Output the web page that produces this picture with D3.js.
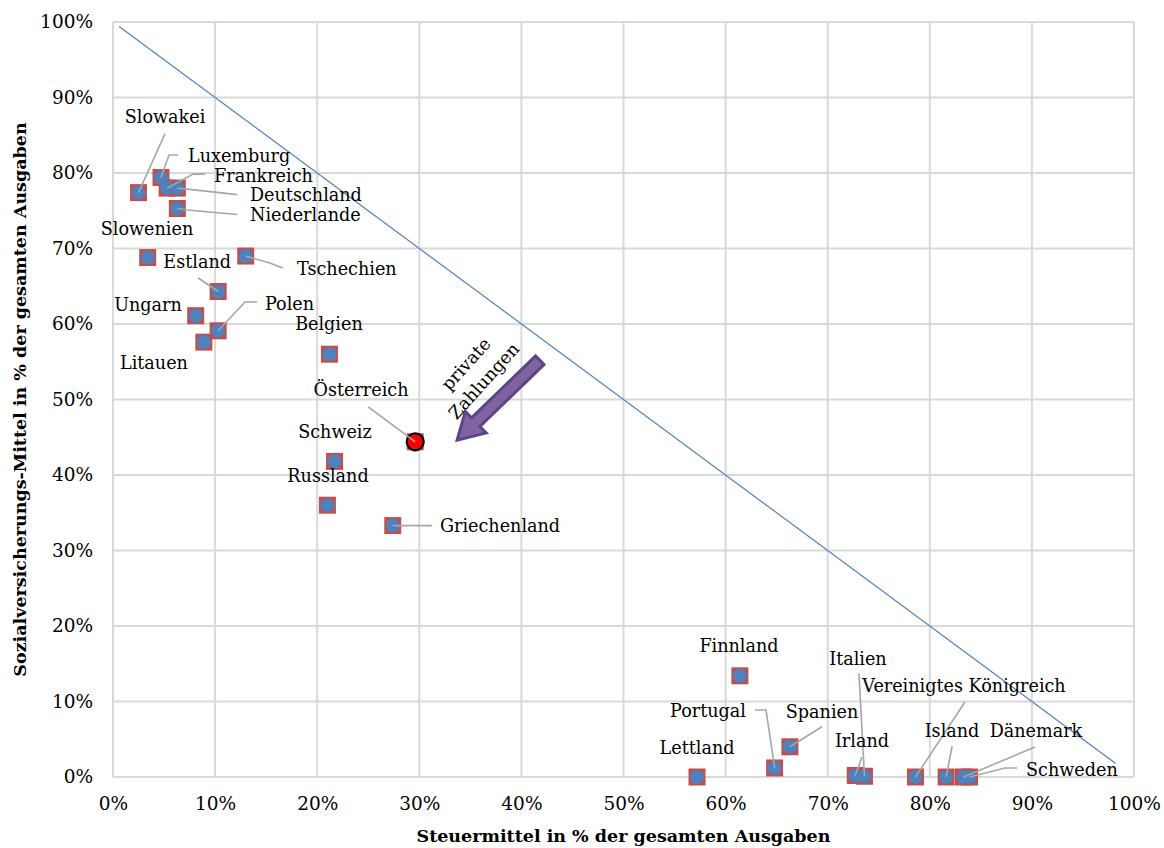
<!DOCTYPE html>
<html>
<head>
<meta charset="utf-8">
<script src="https://cdn.jsdelivr.net/npm/d3@7"></script>
<style>
  html, body { margin: 0; padding: 0; background: #fff; }
  svg { display: block; }
  text { font-family: "DejaVu Serif", "Liberation Serif", serif; fill: #000; }
</style>
</head>
<body>
<svg id="chart" width="1164" height="848"></svg>
<script>
// Financing of health expenditure: tax funds vs. social insurance funds (share of total)
const countries = ["Slowakei","Luxemburg","Frankreich","Deutschland","Niederlande","Slowenien","Estland",
  "Tschechien","Ungarn","Polen","Litauen","Belgien","Österreich","Schweiz","Russland","Griechenland",
  "Finnland","Lettland","Portugal","Spanien","Irland","Italien","Vereinigtes Königreich","Island",
  "Dänemark","Schweden"];
const taxShare = [2.5, 4.7, 5.3, 6.3, 6.3, 3.4, 10.3, 13.0, 8.1, 10.3, 8.9, 21.2, 29.6, 21.7, 21.0, 27.4,
  61.4, 57.2, 64.8, 66.3, 72.7, 73.6, 78.6, 81.6, 83.3, 83.9];
const insuranceShare = [77.4, 79.4, 78.0, 78.0, 75.3, 68.8, 64.3, 69.0, 61.1, 59.1, 57.6, 56.0, 44.4, 41.8, 36.0, 33.3,
  13.4, 0.0, 1.2, 4.0, 0.2, 0.1, 0.0, 0.0, 0.0, 0.0];
const highlighted = "Österreich";

const xTicks = [0,10,20,30,40,50,60,70,80,90,100];
const yTicks = [0,10,20,30,40,50,60,70,80,90,100];
const xTitle = "Steuermittel in % der gesamten Ausgaben";
const yTitle = "Sozialversicherungs-Mittel in % der gesamten Ausgaben";

// reference line x + y = 100 (no private payments)
const refLineX = [0.6, 98.2];
const refLineY = [99.4, 1.8];
// arrow annotation (tail -> head) in data units
const arrowX = [41.8, 33.7];
const arrowY = [55.2, 44.6];
const arrowText = ["private", "Zahlungen"];

// label placement: pixel offset from the marker, anchor, leader line path (pixel offsets)
const labelLayout = {
  "Slowakei": {dx: 26.5, dy: -75.6, a: "middle", leader: [[26.5,-59],[0,0]]},
  "Luxemburg": {dx: 27, dy: -21.5, a: "start", leader: [[17,-22.5],[8,-22.5],[0,0]]},
  "Frankreich": {dx: 47, dy: -12, a: "start", leader: [[38,-14],[26,-14],[0,0]]},
  "Deutschland": {dx: 72.7, dy: 7, a: "start", leader: [[60,6.5],[10,1],[0,0]]},
  "Niederlande": {dx: 72.7, dy: 6.5, a: "start", leader: [[60,6],[10,1.5],[0,0]]},
  "Slowenien": {dx: -0.7, dy: -28.6, a: "middle"},
  "Estland": {dx: -21, dy: -29.5, a: "middle", leader: [[-20,-13.5],[0,0]]},
  "Tschechien": {dx: 51.3, dy: 13, a: "start", leader: [[37,12],[24,7],[0,0]]},
  "Ungarn": {dx: -47.7, dy: -10.7, a: "middle"},
  "Polen": {dx: 46.8, dy: -26.8, a: "start", leader: [[38.8,-28.8],[26.8,-28.8],[0,0]]},
  "Litauen": {dx: -49.9, dy: 20.9, a: "middle"},
  "Belgien": {dx: -0.5, dy: -30.2, a: "middle"},
  "Österreich": {dx: -54.2, dy: -51.8, a: "middle", leader: [[-47,-35],[0,0]]},
  "Schweiz": {dx: 0.4, dy: -29.4, a: "middle"},
  "Russland": {dx: 0.6, dy: -29.2, a: "middle"},
  "Griechenland": {dx: 47.2, dy: 0.4, a: "start", leader: [[39,0],[0,0]]},
  "Finnland": {dx: -0.9, dy: -29.8, a: "middle"},
  "Lettland": {dx: 0, dy: -29, a: "middle"},
  "Portugal": {dx: -66.6, dy: -57, a: "middle", leader: [[-19.6,-58],[-8.6,-58],[0,0]]},
  "Spanien": {dx: 32.1, dy: -34.8, a: "middle", leader: [[32,-20],[0,0]]},
  "Irland": {dx: 6.7, dy: -34.5, a: "middle", leader: [[6.7,-18.5],[0,0]]},
  "Italien": {dx: -6.5, dy: -117.2, a: "middle", leader: [[-5.5,-103],[0,0]]},
  "Vereinigtes Königreich": {dx: 48.5, dy: -91, a: "middle", leader: [[49.5,-75],[0,0]]},
  "Island": {dx: 5.9, dy: -46, a: "middle", leader: [[6,-31],[0,0]]},
  "Dänemark": {dx: 72.5, dy: -46, a: "middle", leader: [[71.5,-30],[0,0]]},
  "Schweden": {dx: 56.4, dy: -7, a: "start", leader: [[47.4,-9],[35.4,-9],[0,0]]}
};

const data = countries.map((c, i) => ({name: c, x: taxShare[i], y: insuranceShare[i]}));

const svg = d3.select("#chart");
const margin = {left: 113, right: 30, top: 22, bottom: 71};
const W = 1164, H = 848;
const x = d3.scaleLinear().domain([0, 100]).range([margin.left, W - margin.right]);
const y = d3.scaleLinear().domain([0, 100]).range([H - margin.bottom, margin.top]);
const FS = 17.6;

// gridlines
const grid = svg.append("g");
grid.selectAll("line.v").data(xTicks).join("line")
  .attr("x1", d => x(d)).attr("x2", d => x(d))
  .attr("y1", y(0)).attr("y2", y(100))
  .attr("stroke", "#d9d9d9").attr("stroke-width", 2);
grid.selectAll("line.h").data(yTicks).join("line")
  .attr("x1", x(0)).attr("x2", x(100))
  .attr("y1", d => y(d)).attr("y2", d => y(d))
  .attr("stroke", "#d9d9d9").attr("stroke-width", 2);

// axes (tick labels only)
const fmt = d => d + "%";
const xAxis = svg.append("g").attr("transform", `translate(0,${y(0)})`)
  .call(d3.axisBottom(x).tickValues(xTicks).tickFormat(fmt).tickSize(0).tickPadding(20));
const yAxis = svg.append("g").attr("transform", `translate(${x(0)},0)`)
  .call(d3.axisLeft(y).tickValues(yTicks).tickFormat(fmt).tickSize(0).tickPadding(20));
[xAxis, yAxis].forEach(g => {
  g.select(".domain").remove();
  g.selectAll("text").attr("font-family", "DejaVu Serif").attr("font-size", 18.5).attr("fill", "#000");
});

// axis titles
svg.append("text").attr("x", x(50)).attr("y", 842)
  .attr("text-anchor", "middle").attr("font-weight", "bold").attr("font-size", 17.5)
  .text(xTitle);
svg.append("text").attr("transform", `translate(26,${y(50)}) rotate(-90)`)
  .attr("text-anchor", "middle").attr("font-weight", "bold").attr("font-size", 17.5)
  .text(yTitle);

// reference diagonal
svg.append("line")
  .attr("x1", x(refLineX[0])).attr("y1", y(refLineY[0]))
  .attr("x2", x(refLineX[1])).attr("y2", y(refLineY[1]))
  .attr("stroke", "#4f81bd").attr("stroke-width", 1.2);

// markers
const marks = svg.append("g");
marks.selectAll("rect").data(data).join("rect")
  .attr("x", d => x(d.x) - 8.5).attr("y", d => y(d.y) - 8.5)
  .attr("width", 17).attr("height", 17)
  .attr("fill", "#c0504d");
marks.selectAll("circle").data(data).join("circle")
  .attr("cx", d => x(d.x)).attr("cy", d => y(d.y))
  .attr("r", d => d.name === highlighted ? 8.5 : 7)
  .attr("fill", d => d.name === highlighted ? "#ff0000" : "#4f81bd")
  .attr("stroke", d => d.name === highlighted ? "#000" : "none")
  .attr("stroke-width", 2.2);

// leader lines
const lineGen = d3.line();
svg.append("g").selectAll("path").data(data.filter(d => labelLayout[d.name].leader)).join("path")
  .attr("d", d => lineGen(labelLayout[d.name].leader.map(p => [x(d.x) + p[0], y(d.y) + p[1]])))
  .attr("fill", "none").attr("stroke", "#a6a6a6").attr("stroke-width", 1.6);

// labels
svg.append("g").selectAll("text").data(data).join("text")
  .attr("x", d => x(d.x) + labelLayout[d.name].dx)
  .attr("y", d => y(d.y) + labelLayout[d.name].dy)
  .attr("text-anchor", d => labelLayout[d.name].a)
  .attr("dominant-baseline", "central")
  .attr("font-size", FS)
  .text(d => d.name);

// block arrow for private payments
const tx = x(arrowX[0]), ty = y(arrowY[0]), hx = x(arrowX[1]), hy = y(arrowY[1]);
const len = Math.hypot(hx - tx, hy - ty);
const ang = Math.atan2(hy - ty, hx - tx) * 180 / Math.PI;
const sw = 6, hw = 15, hl = 26;
const arrowPath = `M0,${-sw} L${len - hl},${-sw} L${len - hl},${-hw} L${len},0 L${len - hl},${hw} L${len - hl},${sw} L0,${sw} Z`;
const arrowG = svg.append("g").attr("transform", `translate(${tx},${ty}) rotate(${ang})`);
arrowG.append("path").attr("d", arrowPath)
  .attr("fill", "#8064a2").attr("stroke", "#5c4785").attr("stroke-width", 3).attr("stroke-linejoin", "miter");

svg.append("text").attr("transform", `translate(466,364) rotate(-48)`)
  .attr("text-anchor", "middle").attr("dominant-baseline", "central").attr("font-size", FS)
  .text(arrowText[0]);
svg.append("text").attr("transform", `translate(484,381) rotate(-48)`)
  .attr("text-anchor", "middle").attr("dominant-baseline", "central").attr("font-size", FS)
  .text(arrowText[1]);
</script>
</body>
</html>
